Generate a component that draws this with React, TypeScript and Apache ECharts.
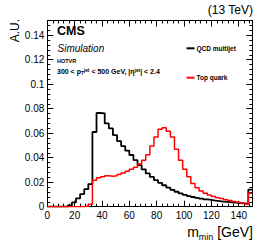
import React, { useEffect, useRef } from 'react';
import * as echarts from 'echarts';

// Histogram binning (GeV)
const BIN_WIDTH = 3;
const X_MIN = 0;
const X_MAX = 150;
const Y_MAX = 0.152;

// Normalised bin contents, 50 bins of 3 GeV from 0 to 150 GeV
const qcdMultijet = [
  0, 0, 0, 0, 0,
  0.001, 0.0035, 0.0068, 0.0103, 0.0143,
  0.0185, 0.061, 0.0765, 0.0762, 0.068,
  0.064, 0.0585, 0.0535, 0.0495, 0.0457,
  0.0422, 0.0381, 0.034, 0.0305, 0.0272,
  0.0243, 0.0217, 0.0195, 0.0175, 0.0155,
  0.0138, 0.0122, 0.0108, 0.0097, 0.0087,
  0.0079, 0.0072, 0.0066, 0.006, 0.0055,
  0.005, 0.0046, 0.0042, 0.0039, 0.0036,
  0.0033, 0.003, 0.0027, 0.0024, 0.014,
];
const topQuark = [
  0, 0, 0, 0, 0,
  0, 0, 0, 0, 0.0005,
  0.002, 0.0215, 0.0237, 0.0245, 0.0252,
  0.0248, 0.0252, 0.0262, 0.0275, 0.029,
  0.0305, 0.0322, 0.0348, 0.038, 0.0425,
  0.0495, 0.057, 0.0632, 0.0645, 0.0615,
  0.057, 0.047, 0.038, 0.0305, 0.0245,
  0.019, 0.0155, 0.0128, 0.011, 0.0095,
  0.0083, 0.0074, 0.0066, 0.0057, 0.005,
  0.0043, 0.0036, 0.003, 0.0022, 0.011,
];
const seriesNames = ['QCD multijet', 'Top quark'];
const seriesColors = ['#000000', '#ff0000'];

const FONT = '"Liberation Sans", Arial, Helvetica, sans-serif';

function toSteps(values: number[]) {
  const pts: number[][] = values.map((v, i) => [X_MIN + i * BIN_WIDTH, v]);
  pts.push([X_MIN + values.length * BIN_WIDTH, values[values.length - 1]]);
  return pts;
}

function xAxisDef(position: 'top' | 'bottom', interval: number, tickLen: number, labels: boolean, line: boolean) {
  return {
    type: 'value',
    position,
    min: X_MIN,
    max: X_MAX,
    interval,
    splitLine: { show: false },
    axisLine: { show: line, onZero: false, lineStyle: { color: '#000', width: 1 } },
    axisTick: { show: true, inside: true, length: tickLen, lineStyle: { color: '#000', width: 1 } },
    axisLabel: {
      show: labels,
      margin: 4,
      fontSize: 10,
      fontFamily: FONT,
      color: '#000',
      formatter: (v: number) => (v > 145 ? '' : String(Math.round(v))),
    },
  };
}

function yAxisDef(position: 'left' | 'right', interval: number, tickLen: number, labels: boolean, line: boolean) {
  return {
    type: 'value',
    position,
    min: 0,
    max: Y_MAX,
    interval,
    splitLine: { show: false },
    axisLine: { show: line, onZero: false, lineStyle: { color: '#000', width: 1 } },
    axisTick: { show: true, inside: true, length: tickLen, lineStyle: { color: '#000', width: 1 } },
    axisLabel: {
      show: labels,
      margin: 3,
      fontSize: 10,
      fontFamily: FONT,
      color: '#000',
      formatter: (v: number) => (v > 0.145 ? '' : String(parseFloat(v.toFixed(3)))),
    },
  };
}

export default function App() {
  const ref = useRef<HTMLDivElement>(null);
  useEffect(() => {
    if (!ref.current) return;
    const chart = echarts.init(ref.current, undefined, { renderer: 'svg' });
    chart.setOption({
      animation: false,
      backgroundColor: '#ffffff',
      grid: { left: 47.3, right: 13.6, top: 20.5, bottom: 37.3 },
      xAxis: [
        xAxisDef('bottom', 20, 6, true, true),
        xAxisDef('bottom', 4, 3, false, false),
        xAxisDef('top', 20, 6, false, true),
        xAxisDef('top', 4, 3, false, false),
      ],
      yAxis: [
        yAxisDef('left', 0.02, 6, true, true),
        yAxisDef('left', 0.004, 3, false, false),
        yAxisDef('right', 0.02, 6, false, true),
        yAxisDef('right', 0.004, 3, false, false),
      ],
      legend: {
        orient: 'vertical',
        left: 181.5,
        top: 39.3,
        itemWidth: 8,
        itemHeight: 2,
        itemGap: 21.4,
        icon: 'rect',
        textStyle: {
          fontSize: 6.5,
          fontWeight: 'bold',
          lineHeight: 8,
          fontFamily: FONT,
          color: '#000',
          padding: [0, 0, 0, -3],
        },
        data: seriesNames,
      },
      series: [
        {
          name: seriesNames[0],
          type: 'line',
          step: 'end',
          xAxisIndex: 0,
          yAxisIndex: 0,
          data: toSteps(qcdMultijet),
          showSymbol: false,
          symbol: 'none',
          color: seriesColors[0],
          lineStyle: { color: seriesColors[0], width: 1.8 },
        },
        {
          name: seriesNames[1],
          type: 'line',
          step: 'end',
          xAxisIndex: 0,
          yAxisIndex: 0,
          data: toSteps(topQuark),
          showSymbol: false,
          symbol: 'none',
          color: seriesColors[1],
          lineStyle: { color: seriesColors[1], width: 1.5 },
        },
      ],
      graphic: [
        {
          type: 'text', x: 14.5, y: 19, rotation: Math.PI / 2,
          style: { text: 'A.U.', fontSize: 12, fontFamily: FONT, fill: '#000', align: 'right', verticalAlign: 'middle' },
        },
        {
          type: 'text', x: 253, y: 10,
          style: { text: '(13 TeV)', fontSize: 12, fontFamily: FONT, fill: '#000', align: 'right', verticalAlign: 'middle' },
        },
        {
          type: 'text', x: 57, y: 31,
          style: { text: 'CMS', fontSize: 12.5, fontWeight: 'bold', fontFamily: FONT, fill: '#000', align: 'left', verticalAlign: 'middle' },
        },
        {
          type: 'text', x: 57.5, y: 48.5,
          style: { text: 'Simulation', fontSize: 10, fontStyle: 'italic', fontFamily: FONT, fill: '#000', align: 'left', verticalAlign: 'middle' },
        },
        {
          type: 'text', x: 57, y: 61.3,
          style: { text: 'HOTVR', fontSize: 5.5, fontWeight: 'bold', fontFamily: FONT, fill: '#000', align: 'left', verticalAlign: 'middle' },
        },
        {
          type: 'text', x: 57, y: 71.5,
          style: {
            text: '{a|300 < p}{sub|T}{sup|jet}{a| < 500 GeV, |η}{sup|jet}{a|| < 2.4}',
            align: 'left',
            verticalAlign: 'middle',
            rich: {
              a: { fontSize: 7, fontWeight: 'bold', fontFamily: FONT, fill: '#000', lineHeight: 8, verticalAlign: 'middle' },
              sup: { fontSize: 4.8, fontWeight: 'bold', fontFamily: FONT, fill: '#000', lineHeight: 5, verticalAlign: 'top' },
              sub: { fontSize: 4.8, fontWeight: 'bold', fontFamily: FONT, fill: '#000', lineHeight: 5, verticalAlign: 'bottom' },
            },
          },
        },
        {
          type: 'text', x: 253, y: 233,
          style: {
            text: '{a|m}{b|min}{a| [GeV]}',
            align: 'right',
            verticalAlign: 'middle',
            rich: {
              a: { fontSize: 14, fontFamily: FONT, fill: '#000', lineHeight: 16, verticalAlign: 'top' },
              b: { fontSize: 9, fontFamily: FONT, fill: '#000', lineHeight: 10, padding: [10, 0, 0, 0], verticalAlign: 'bottom' },
            },
          },
        },
      ],
    });
    return () => chart.dispose();
  }, []);
  return <div ref={ref} style={{ position: 'absolute', left: 0, top: 0, width: 266, height: 244 }} />;
}
